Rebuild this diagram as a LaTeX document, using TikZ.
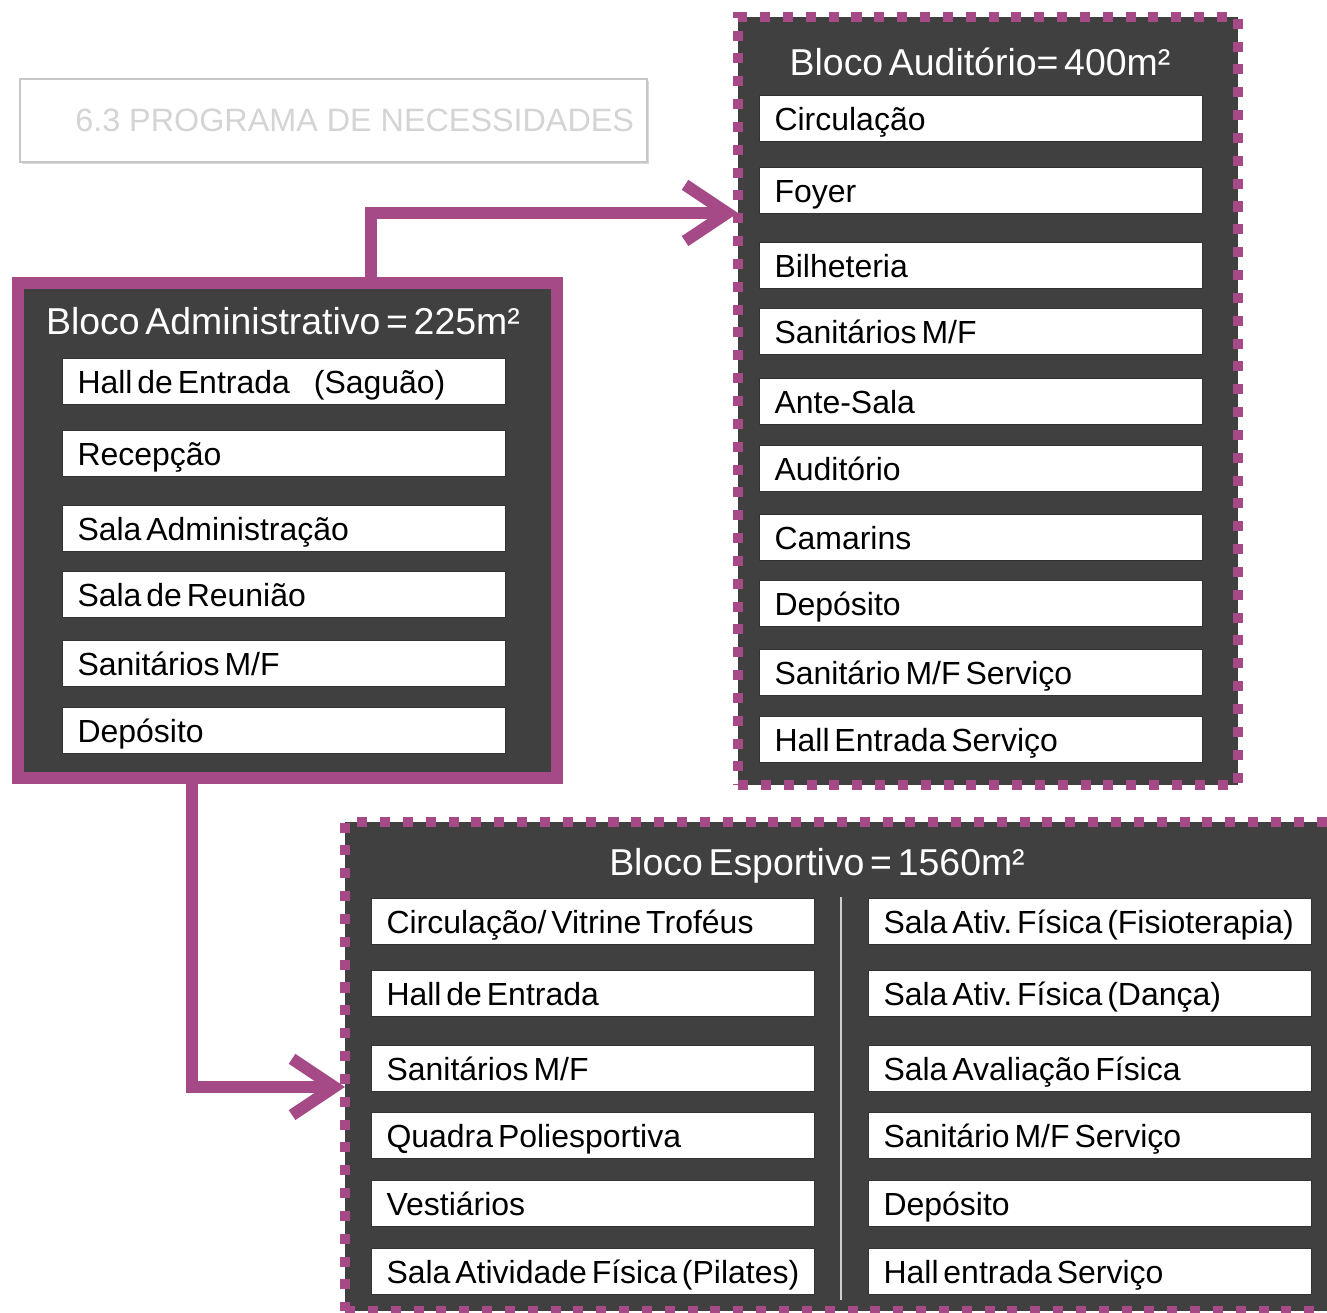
\documentclass[tikz,border=0pt]{standalone}
\usepackage{fontspec}
\setmainfont{Liberation Sans}[WordSpace=0.55]
\newfontfamily\fonteTitulo{Liberation Sans}
\usetikzlibrary{arrows.meta,fit,shadows}

\definecolor{corBorda}{RGB}{166,74,135}
\definecolor{corFundo}{RGB}{64,64,64}
\definecolor{corTitulo}{RGB}{212,212,212}

\begin{document}
\frenchspacing
\begin{tikzpicture}[x=0.02cm,y=-0.02cm]
	\useasboundingbox (0,0) rectangle (1327,1312);
		\begin{scope}
			[
				styleTitle/.style={draw=black!22, fill=white, line width=0.8pt, inner sep=0pt,
					drop shadow={opacity=0.3, shadow xshift=1pt, shadow yshift=-1pt}},
				styleBloco/.style={fill=corFundo, draw=corBorda, inner sep=0pt, outer sep=0pt},
				styleSolid/.style={line width=6.8pt},
				styleDashed/.style={line width=5.7pt, dash pattern=on 5.7pt off 7.3pt},
				styleHead/.style={text=white, font=\fontsize{21.3}{24}\selectfont},
				styleItem/.style={anchor=north west, fill=white, draw=black!80, line width=0.6pt,
					minimum height=0.92cm, text width=8.26cm, inner xsep=0.3cm, inner ysep=0pt,
					text height=15pt, text depth=1.8pt, align=flush left,
					font=\fontsize{18.2}{20}\selectfont},
			]
			% titulo da secao
			\node(titulo)[styleTitle, fit={(20,79) (647,162)}] {};
			\node(tituloTxt)[anchor=west, text=corTitulo, inner sep=0pt,
				font=\fonteTitulo\fontsize{18.4}{20}\selectfont] at (75,120) {6.3 PROGRAMA DE NECESSIDADES};

			% bloco administrativo
			\node(adm)[styleBloco, styleSolid, fit={(18,283) (557,778)}] {};
			\node(admHead)[styleHead] at (283,321) {Bloco Administrativo = 225m²};
			\node(a1)[styleItem] at (62,358) {Hall de Entrada\hspace{0.75em}(Saguão)};
			\node(a2)[styleItem] at (62,430) {Recepção};
			\node(a3)[styleItem] at (62,505) {Sala Administração};
			\node(a4)[styleItem] at (62,571) {Sala de Reunião};
			\node(a5)[styleItem] at (62,640) {Sanitários M/F};
			\node(a6)[styleItem] at (62,707) {Depósito};

			% bloco auditorio
			\node(aud)[styleBloco, styleDashed, fit={(738,17) (1238,785)}] {};
			\node(audHead)[styleHead] at (980,62) {Bloco Auditório= 400m²};
			\node(b1)[styleItem] at (759,95) {Circulação};
			\node(b2)[styleItem] at (759,167) {Foyer};
			\node(b3)[styleItem] at (759,242) {Bilheteria};
			\node(b4)[styleItem] at (759,308) {Sanitários M/F};
			\node(b5)[styleItem] at (759,378) {Ante-Sala};
			\node(b6)[styleItem] at (759,445) {Auditório};
			\node(b7)[styleItem] at (759,514) {Camarins};
			\node(b8)[styleItem] at (759,580) {Depósito};
			\node(b9)[styleItem] at (759,649) {Sanitário M/F Serviço};
			\node(b10)[styleItem] at (759,716) {Hall Entrada Serviço};

			% bloco esportivo
			\node(esp)[styleBloco, styleDashed, fit={(345,822) (1345,1311)}] {};
			\node(espHead)[styleHead] at (817,866) {Bloco Esportivo = 1560m²};
			\draw[white!75!corFundo, line width=0.8pt] (841,897) -- (841,1300);
			\node(c1)[styleItem] at (371,898) {Circulação/ Vitrine Troféus};
			\node(c2)[styleItem] at (371,970) {Hall de Entrada};
			\node(c3)[styleItem] at (371,1045) {Sanitários M/F};
			\node(c4)[styleItem] at (371,1112) {Quadra Poliesportiva};
			\node(c5)[styleItem] at (371,1180) {Vestiários};
			\node(c6)[styleItem] at (371,1248) {Sala Atividade Física (Pilates)};
			\node(d1)[styleItem] at (868,898) {Sala Ativ. Física (Fisioterapia)};
			\node(d2)[styleItem] at (868,970) {Sala Ativ. Física (Dança)};
			\node(d3)[styleItem] at (868,1045) {Sala Avaliação Física};
			\node(d4)[styleItem] at (868,1112) {Sanitário M/F Serviço};
			\node(d5)[styleItem] at (868,1180) {Depósito};
			\node(d6)[styleItem] at (868,1248) {Hall entrada Serviço};
		\end{scope}
		\begin{scope}
			[draw=corBorda, line width=6.8pt, -{Straight Barb[length=24pt, width=32pt]}]
			\draw ([xshift=7.06cm]adm.north west) |- ([yshift=-3.92cm]aud.north west);
			\draw ([xshift=3.48cm]adm.south west) |- ([yshift=-5.3cm]esp.north west);
		\end{scope}
\end{tikzpicture}
\end{document}
